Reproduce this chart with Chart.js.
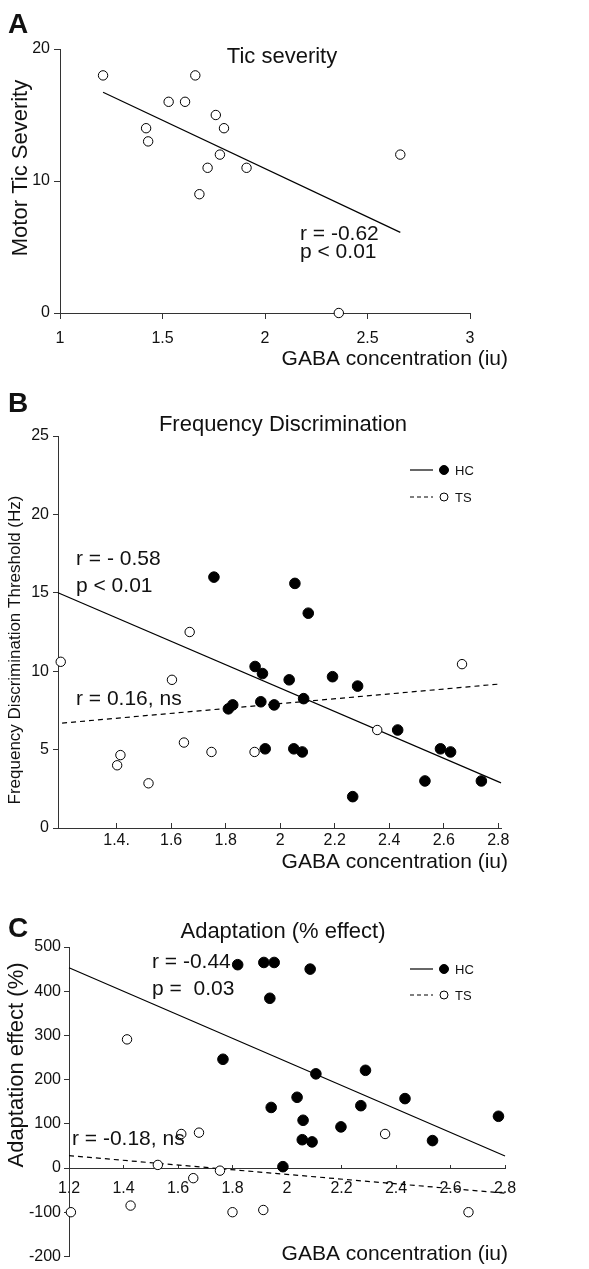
<!DOCTYPE html>
<html>
<head>
<meta charset="utf-8">
<script src="https://cdn.jsdelivr.net/npm/chart.js@4.4.1/dist/chart.umd.min.js"></script>
<style>
    html, body { margin: 0; padding: 0; background: #fff; }
    #page { position: relative; width: 589px; height: 1269px; overflow: hidden; }
    canvas { position: absolute; left: 0; }
</style>
</head>
<body>
<div id="page">
    <canvas id="ticChart" width="589" height="390" style="top:0px"></canvas>
    <canvas id="freqChart" width="589" height="486" style="top:390px"></canvas>
    <canvas id="adaptChart" width="589" height="393" style="top:876px"></canvas>
</div>
<script>
// Panel A - tic severity (TS only)
const ticGaba = [1.21, 1.66, 1.53, 1.61, 1.76, 1.42, 1.80, 1.43, 1.78, 2.66, 1.72, 1.91, 1.68, 2.36];
const ticSeverity = [18, 18, 16, 16, 15, 14, 14, 13, 12, 12, 11, 11, 9, 0];
const ticFitX = [1.21, 2.66];
const ticFitY = [16.72, 6.11];
const ticXTicks = [1, 1.5, 2, 2.5, 3];
const ticYTicks = [0, 10, 20];

// Panel B - frequency discrimination
const freqHcGaba = [1.757, 2.054, 2.103, 1.908, 1.935, 2.033, 2.192, 2.284, 1.810, 1.826, 1.929,
    1.978, 2.086, 1.945, 2.050, 2.081, 2.431, 2.588, 2.625, 2.531, 2.738, 2.266];
const freqHcThreshold = [16.0, 15.6, 13.7, 10.3, 9.85, 9.45, 9.65, 9.05, 7.6, 7.85, 8.05,
    7.85, 8.25, 5.05, 5.05, 4.85, 6.25, 5.05, 4.85, 3.0, 3.0, 2.0];
const freqTsGaba = [1.195, 1.668, 1.603, 1.647, 1.748, 1.414, 1.402, 1.517, 1.906, 2.356, 2.667];
const freqTsThreshold = [10.6, 12.5, 9.45, 5.45, 4.85, 4.65, 4.0, 2.85, 4.85, 6.25, 10.45];
const freqHcFitX = [1.185, 2.81];
const freqHcFitY = [15.0, 2.88];
const freqTsFitX = [1.2, 2.81];
const freqTsFitY = [6.69, 9.19];
const freqXTicks = [1.4, 1.6, 1.8, 2, 2.2, 2.4, 2.6, 2.8];
const freqXLabels = ['1.4.', '1.6', '1.8', '2', '2.2', '2.4', '2.6', '2.8'];
const freqYTicks = [0, 5, 10, 15, 20, 25];

// Panel C - adaptation
const adaptHcGaba = [1.819, 1.915, 1.953, 2.085, 1.937, 1.765, 2.106, 2.288, 2.037, 2.433,
    1.942, 2.271, 2.059, 2.198, 2.776, 2.056, 2.092, 2.534, 1.985];
const adaptHcEffect = [460, 465, 465, 450, 384, 246, 213, 221, 160, 157,
    137, 141, 108, 93, 117, 64, 59, 62, 3];
const adaptTsGaba = [1.413, 1.612, 1.677, 2.360, 1.526, 1.754, 1.656, 1.426, 1.913, 1.207, 1.800, 2.666];
const adaptTsEffect = [291, 77, 80, 77, 7, -6, -23, -85, -95, -100, -100, -100];
const adaptHcFitX = [1.2, 2.8];
const adaptHcFitY = [453, 27];
const adaptTsFitX = [1.2, 2.8];
const adaptTsFitY = [28, -57];
const adaptXTicks = [1.2, 1.4, 1.6, 1.8, 2, 2.2, 2.4, 2.6, 2.8];
const adaptYTicks = [-200, -100, 0, 100, 200, 300, 400, 500];

const FONT = "'Liberation Sans', Arial, Helvetica, sans-serif";
const AXIS = '#333';
const INK = '#111';

function points(xs, ys, filled) {
    return {
        data: xs.map((x, i) => ({ x: x, y: ys[i] })),
        pointRadius: filled ? 5.3 : 4.7,
        pointBackgroundColor: filled ? '#000' : '#fff',
        pointBorderColor: '#000',
        pointBorderWidth: 1,
        showLine: false,
        clip: false,
        order: 0
    };
}

function fitLine(xs, ys, dash) {
    return {
        data: xs.map((x, i) => ({ x: x, y: ys[i] })),
        borderColor: '#000',
        borderWidth: 1.2,
        borderDash: dash,
        pointRadius: 0,
        showLine: true,
        clip: false,
        order: 1
    };
}

function axis(min, max, ticks, o) {
    return {
        type: 'linear',
        min: min,
        max: max,
        position: o.position,
        afterBuildTicks: s => { s.ticks = ticks.map(v => ({ value: v })); },
        afterFit: s => {
            if (o.width) s.width = o.width;
            if (o.height) s.height = o.height;
        },
        grid: { drawOnChartArea: false, tickLength: o.tickLength, color: AXIS, lineWidth: 1 },
        border: { color: AXIS, width: 1 },
        ticks: {
            font: { family: FONT, size: 16 },
            color: INK,
            padding: o.padding,
            autoSkip: false,
            maxRotation: 0,
            callback: o.callback || (v => String(v))
        }
    };
}

// texts drawn straight onto the canvas
function textPlugin(id, items) {
    return {
        id: id,
        afterDraw(chart) {
            const ctx = chart.ctx;
            items.forEach(t => {
                ctx.save();
                ctx.fillStyle = INK;
                ctx.font = (t.bold ? 'bold ' : '') + t.size + 'px ' + FONT;
                ctx.textAlign = t.align || 'left';
                ctx.textBaseline = t.baseline || 'alphabetic';
                ctx.translate(t.x, t.y);
                if (t.rotate) ctx.rotate(-Math.PI / 2);
                ctx.fillText(t.text, 0, 0);
                ctx.restore();
            });
        }
    };
}

function legendPlugin(id, rows) {
    return {
        id: id,
        afterDraw(chart) {
            const ctx = chart.ctx;
            rows.forEach(r => {
                ctx.save();
                ctx.strokeStyle = '#000';
                ctx.lineWidth = 1.2;
                ctx.setLineDash(r.dash);
                ctx.beginPath();
                ctx.moveTo(410, r.y);
                ctx.lineTo(433, r.y);
                ctx.stroke();
                ctx.setLineDash([]);
                ctx.beginPath();
                ctx.arc(444, r.y, r.filled ? 4.5 : 4, 0, Math.PI * 2);
                ctx.fillStyle = r.filled ? '#000' : '#fff';
                ctx.fill();
                ctx.lineWidth = 1;
                ctx.stroke();
                ctx.fillStyle = INK;
                ctx.font = '13px ' + FONT;
                ctx.textBaseline = 'middle';
                ctx.fillText(r.label, 455, r.y + 1);
                ctx.restore();
            });
        }
    };
}

const common = {
    responsive: false,
    animation: false,
    devicePixelRatio: 1,
    events: [],
    plugins: { legend: { display: false }, tooltip: { enabled: false } }
};

document.addEventListener('DOMContentLoaded', () => {
    const ticCtx = document.getElementById('ticChart').getContext('2d');
    const ticChart = new Chart(ticCtx, {
        type: 'scatter',
        data: {
            datasets: [
                points(ticGaba, ticSeverity, false),
                fitLine(ticFitX, ticFitY, [])
            ]
        },
        options: Object.assign({}, common, {
            layout: { padding: { top: 49, left: 0, right: 119, bottom: 47 } },
            scales: {
                x: axis(1, 3, ticXTicks, { height: 30, tickLength: 6, padding: 10 }),
                y: axis(0, 20, ticYTicks, { width: 60, tickLength: 6, padding: 4 })
            }
        }),
        plugins: [textPlugin('ticText', [
            { text: 'A', x: 8, y: 33, size: 28, bold: true },
            { text: 'Tic severity', x: 282, y: 63, size: 22, align: 'center' },
            { text: 'Motor Tic Severity', x: 21, y: 168, size: 22, align: 'center', baseline: 'middle', rotate: true },
            { text: 'r = -0.62', x: 300, y: 240, size: 21 },
            { text: 'p < 0.01', x: 300, y: 258, size: 21 },
            { text: 'GABA concentration (iu)', x: 508, y: 365, size: 21, align: 'right' }
        ])]
    });

    const freqCtx = document.getElementById('freqChart').getContext('2d');
    const freqChart = new Chart(freqCtx, {
        type: 'scatter',
        data: {
            datasets: [
                points(freqHcGaba, freqHcThreshold, true),
                points(freqTsGaba, freqTsThreshold, false),
                fitLine(freqHcFitX, freqHcFitY, []),
                fitLine(freqTsFitX, freqTsFitY, [5, 4])
            ]
        },
        options: Object.assign({}, common, {
            layout: { padding: { top: 46, left: 0, right: 88, bottom: 23 } },
            scales: {
                x: axis(1.185, 2.81, freqXTicks, {
                    height: 25, tickLength: -5, padding: 8,
                    callback: (v, i) => freqXLabels[i]
                }),
                y: axis(0, 25, freqYTicks, { width: 58, tickLength: 5, padding: 4 })
            }
        }),
        plugins: [
            textPlugin('freqText', [
                { text: 'B', x: 8, y: 22, size: 28, bold: true },
                { text: 'Frequency Discrimination', x: 283, y: 41, size: 22, align: 'center' },
                { text: 'Frequency Discrimination Threshold (Hz)', x: 15, y: 260, size: 17, align: 'center', baseline: 'middle', rotate: true },
                { text: 'r = - 0.58', x: 76, y: 175, size: 21 },
                { text: 'p < 0.01', x: 76, y: 202, size: 21 },
                { text: 'r = 0.16, ns', x: 76, y: 315, size: 21 },
                { text: 'GABA concentration (iu)', x: 508, y: 478, size: 21, align: 'right' }
            ]),
            legendPlugin('freqLegend', [
                { y: 80, dash: [], filled: true, label: 'HC' },
                { y: 107, dash: [4, 3], filled: false, label: 'TS' }
            ])
        ]
    });

    const adaptCtx = document.getElementById('adaptChart').getContext('2d');
    const adaptChart = new Chart(adaptCtx, {
        type: 'scatter',
        data: {
            datasets: [
                points(adaptHcGaba, adaptHcEffect, true),
                points(adaptTsGaba, adaptTsEffect, false),
                fitLine(adaptHcFitX, adaptHcFitY, []),
                fitLine(adaptTsFitX, adaptTsFitY, [5, 4])
            ]
        },
        options: Object.assign({}, common, {
            layout: { padding: { top: 71, left: 0, right: 84, bottom: 11 } },
            scales: {
                x: Object.assign(axis(1.2, 2.8, adaptXTicks, { position: { y: 0 }, tickLength: -4, padding: 15 }), { axis: 'x' }),
                y: axis(-200, 500, adaptYTicks, { width: 69, tickLength: 5, padding: 3 })
            }
        }),
        plugins: [
            textPlugin('adaptText', [
                { text: 'C', x: 8, y: 61, size: 28, bold: true },
                { text: 'Adaptation (% effect)', x: 283, y: 62, size: 22, align: 'center' },
                { text: 'Adaptation effect (%)', x: 17, y: 189, size: 22, align: 'center', baseline: 'middle', rotate: true },
                { text: 'r = -0.44', x: 152, y: 92, size: 21 },
                { text: 'p =  0.03', x: 152, y: 119, size: 21 },
                { text: 'r = -0.18, ns', x: 72, y: 269, size: 21 },
                { text: 'GABA concentration (iu)', x: 508, y: 384, size: 21, align: 'right' }
            ]),
            legendPlugin('adaptLegend', [
                { y: 93, dash: [], filled: true, label: 'HC' },
                { y: 119, dash: [4, 3], filled: false, label: 'TS' }
            ])
        ]
    });
});
</script>
</body>
</html>
